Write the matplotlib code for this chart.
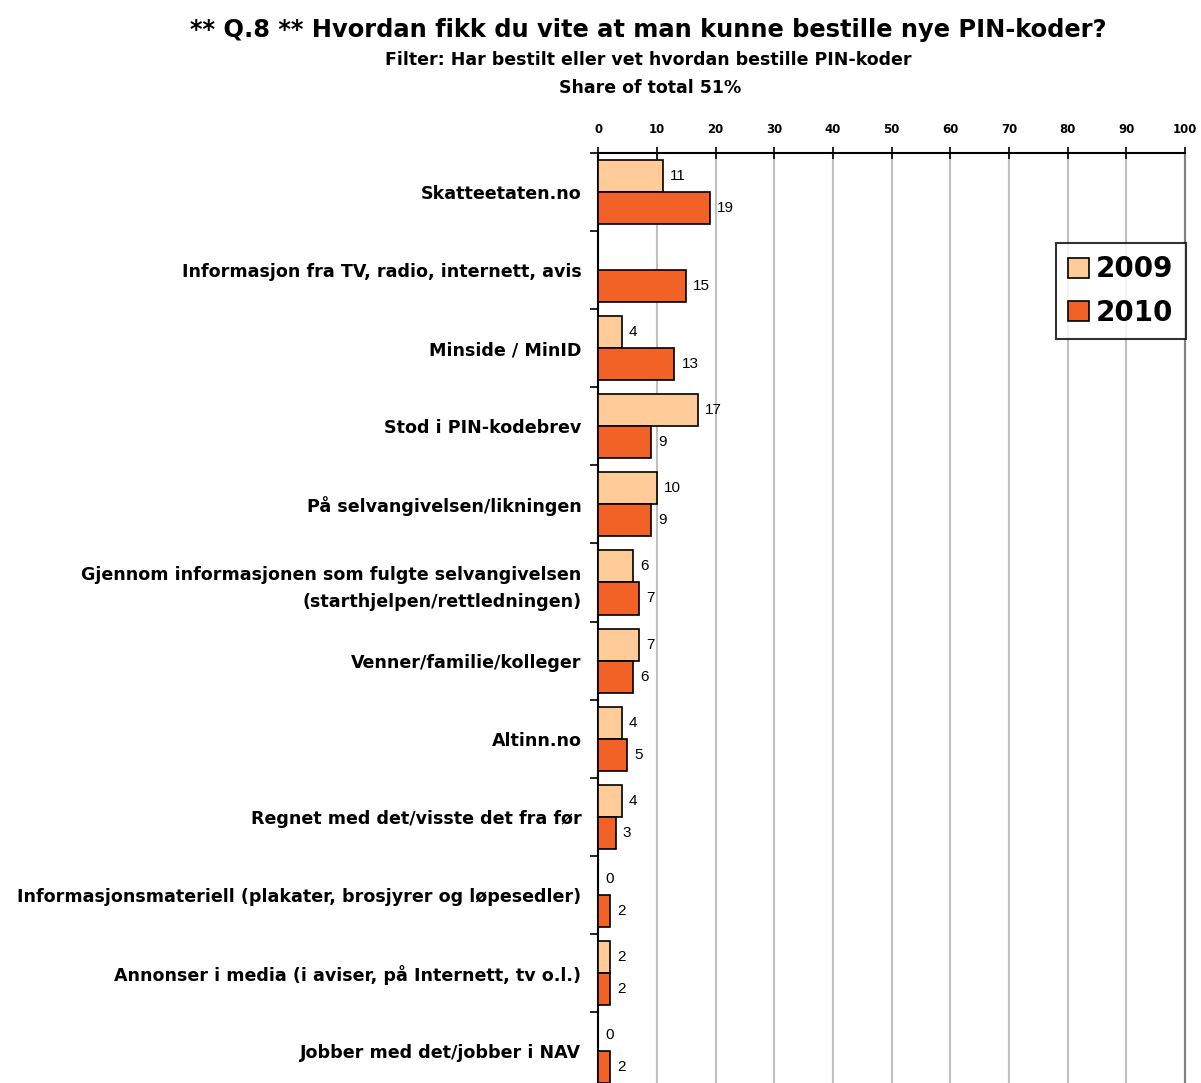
import numpy as np
import matplotlib
matplotlib.use("Agg")
import matplotlib.pyplot as plt
from matplotlib.patches import Patch

plt.rcParams['font.family'] = ['DejaVu Sans']

categories = [
    "Skatteetaten.no",
    "Informasjon fra TV, radio, internett, avis",
    "Minside / MinID",
    "Stod i PIN-kodebrev",
    "På selvangivelsen/likningen",
    "Gjennom informasjonen som fulgte selvangivelsen\n(starthjelpen/rettledningen)",
    "Venner/familie/kolleger",
    "Altinn.no",
    "Regnet med det/visste det fra før",
    "Informasjonsmateriell (plakater, brosjyrer og løpesedler)",
    "Annonser i media (i aviser, på Internett, tv o.l.)",
    "Jobber med det/jobber i NAV",
]
v2009 = [11, None, 4, 17, 10, 6, 7, 4, 4, 0, 2, 0]
v2010 = [19, 15, 13, 9, 9, 7, 6, 5, 3, 2, 2, 2]
years = ["2009", "2010"]
colors = ["#FFCC99", "#F26125"]

fig = plt.figure(figsize=(12.01, 10.83), dpi=100)
ax = fig.add_axes([0.498, -0.0065, 0.4888, 0.8652])

y = np.arange(len(categories))
h = 0.41
for k, (vals, col) in enumerate(zip([v2009, v2010], colors)):
    off = -h / 2 if k == 0 else h / 2
    for i, v in enumerate(vals):
        if v is None:
            continue
        ax.barh(y[i] + off, v, height=h, color=col, edgecolor="black", linewidth=1.2, zorder=3)
        ax.text(v + 1.2, y[i] + off, str(v), va="center", ha="left", fontsize=11,
                family="Liberation Sans", zorder=4)

ax.set_xlim(0, 100)
ax.set_ylim(len(categories) - 0.5, -0.5)
ax.xaxis.tick_top()
ax.set_xticks(np.arange(0, 101, 10))
ax.tick_params(axis="x", direction="inout", length=8, width=1.2, pad=8, labelsize=8.5)
for lab in ax.get_xticklabels():
    lab.set_fontweight("bold")
ax.grid(axis="x", color="#C0C0C0", linewidth=1.5, zorder=0)

ax.set_yticks(y)
ax.set_yticklabels(categories, fontsize=12.6, fontweight="bold")
for lab in ax.get_yticklabels():
    lab.set_linespacing(1.6)
ax.tick_params(axis="y", length=0, pad=12)
ax.set_yticks(np.arange(-0.5, len(categories), 1), minor=True)
ax.tick_params(axis="y", which="minor", length=6, width=1.2, direction="out")

for s in ["top", "left"]:
    ax.spines[s].set_linewidth(1.5)
    ax.spines[s].set_color("black")
ax.spines["right"].set_color("#808080")
ax.spines["right"].set_linewidth(1.5)
ax.spines["bottom"].set_visible(False)

handles = [Patch(facecolor=c, edgecolor="black", linewidth=1.2) for c in colors]
leg = ax.legend(handles, years, loc="upper right", bbox_to_anchor=(1.001, 0.904),
                borderaxespad=0,
                prop={"weight": "bold", "size": 20}, frameon=True, fancybox=False,
                handlelength=0.75, handleheight=0.75, handletextpad=0.25,
                borderpad=0.45, labelspacing=0.55)
leg.get_frame().set_edgecolor("black")
leg.get_frame().set_linewidth(1.5)
leg.set_zorder(5)

fig.text(0.54, 0.972, "** Q.8 ** Hvordan fikk du vite at man kunne bestille nye PIN-koder?",
         ha="center", va="center", fontsize=17.4, fontweight="bold")
fig.text(0.54, 0.945, "Filter: Har bestilt eller vet hvordan bestille PIN-koder",
         ha="center", va="center", fontsize=12.5, fontweight="bold")
fig.text(0.541, 0.919, "Share of total 51%",
         ha="center", va="center", fontsize=12.5, fontweight="bold")

fig.savefig("out.png", dpi=100)
